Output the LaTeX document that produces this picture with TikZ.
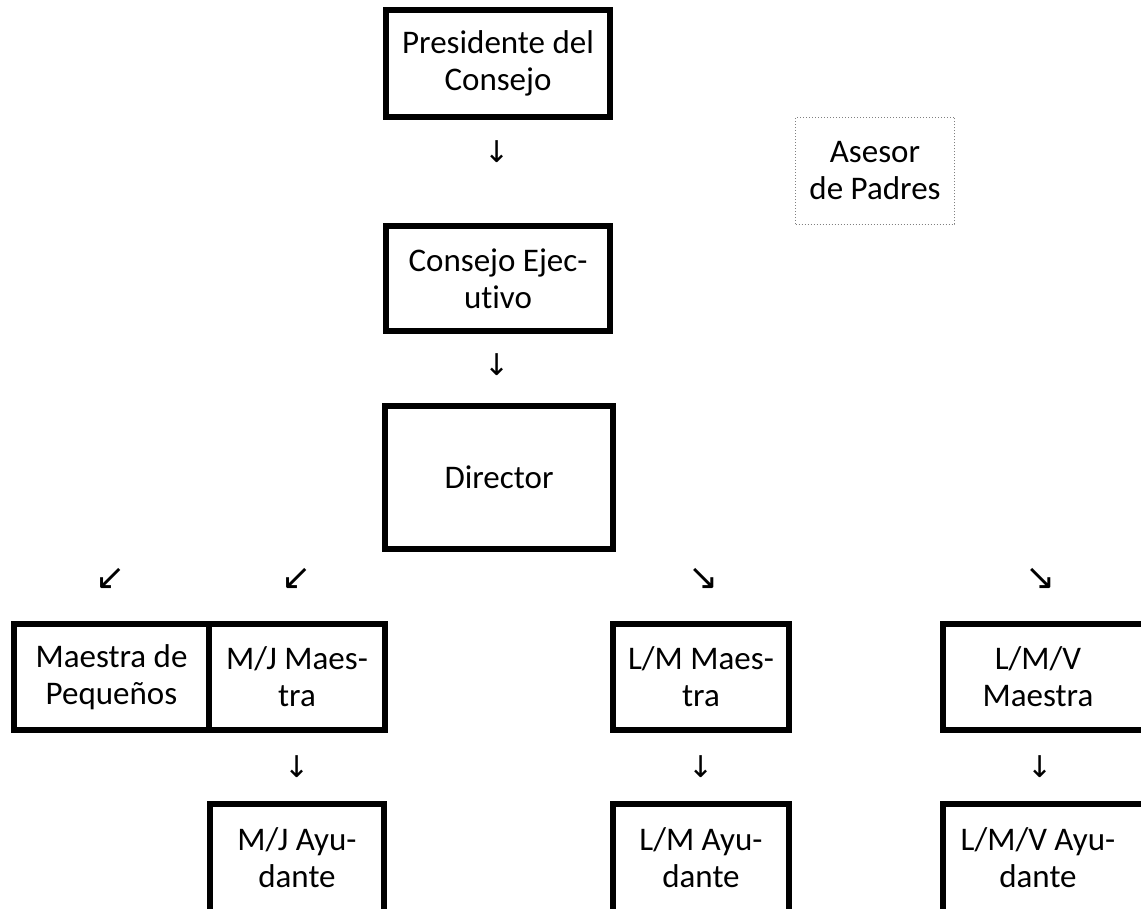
\documentclass[tikz,border=0pt]{standalone}
\usepackage{amsmath}
\usepackage{fontspec}
\setmainfont{Carlito}[Ligatures=NoCommon]
\newfontfamily\arrowfont{DejaVu Sans}
\usepackage{tikz}

\begin{document}
\begin{tikzpicture}[x=1pt,y=-1pt,
        box/.style={draw=black, line width=6pt, align=center, inner sep=0pt,
            font={\fontsize{33}{37}\selectfont}},
        arr/.style={font={\arrowfont\fontsize{30}{30}\selectfont}, black},
        diag/.style={font={\arrowfont\fontsize{36}{36}\selectfont}, black}]
        \clip (0,0) rectangle (1141,909);
        \fill[white] (0,0) rectangle (1141,909);

        \node[box, minimum width=224pt, minimum height=107pt] (pres) at (498, 63.5) {Presidente del\\Consejo};
        \node[arr] (a1) at (497, 152) {↓};

        \node[draw=gray, dotted, line width=1pt, align=center, minimum width=159pt, minimum height=107pt,
            font={\fontsize{33}{37}\selectfont}] (ases) at (875, 171) {Asesor\\de Padres};

        \node[box, minimum width=224pt, minimum height=105pt] (cons) at (498, 278.5) {Consejo Ejec-\\utivo};
        \node[arr] (a2) at (497, 365) {↓};

        \node[box, minimum width=228pt, minimum height=143pt] (dir) at (499, 477.5) {Director};

        \node[diag] (d1) at (111, 579) {↙};
        \node[diag] (d2) at (297, 579) {↙};
        \node[diag] (d3) at (704, 579) {↘};
        \node[diag] (d4) at (1041, 579) {↘};

        \node[box, minimum width=195pt, minimum height=106pt] (peq) at (111.5, 677) {Maestra de\\Peque\~nos};
        \node[box, minimum width=176pt, minimum height=106pt] (mjm) at (297, 677) {M/J Maes-\\tra};
        \node[box, minimum width=176pt, minimum height=106pt] (lmm) at (701, 677) {L/M Maes-\\tra};
        \node[box, minimum width=204pt, minimum height=106pt] (lmvm) at (1045, 677) {\hspace*{-14pt}L/M/V\\\hspace*{-14pt}Maestra};

        \node[arr] (b1) at (297, 767) {↓};
        \node[arr] (b2) at (701, 767) {↓};
        \node[arr] (b3) at (1040, 767) {↓};

        \node[box, minimum width=174pt, minimum height=130pt, text depth=22pt] (mja) at (297, 869) {M/J Ayu-\\dante};
        \node[box, minimum width=176pt, minimum height=130pt, text depth=22pt] (lma) at (701, 869) {L/M Ayu-\\dante};
        \node[box, minimum width=204pt, minimum height=130pt, text depth=22pt] (lmva) at (1045, 869) {\hspace*{-14pt}L/M/V Ayu-\\\hspace*{-14pt}dante};
    \end{tikzpicture}
\end{document}
